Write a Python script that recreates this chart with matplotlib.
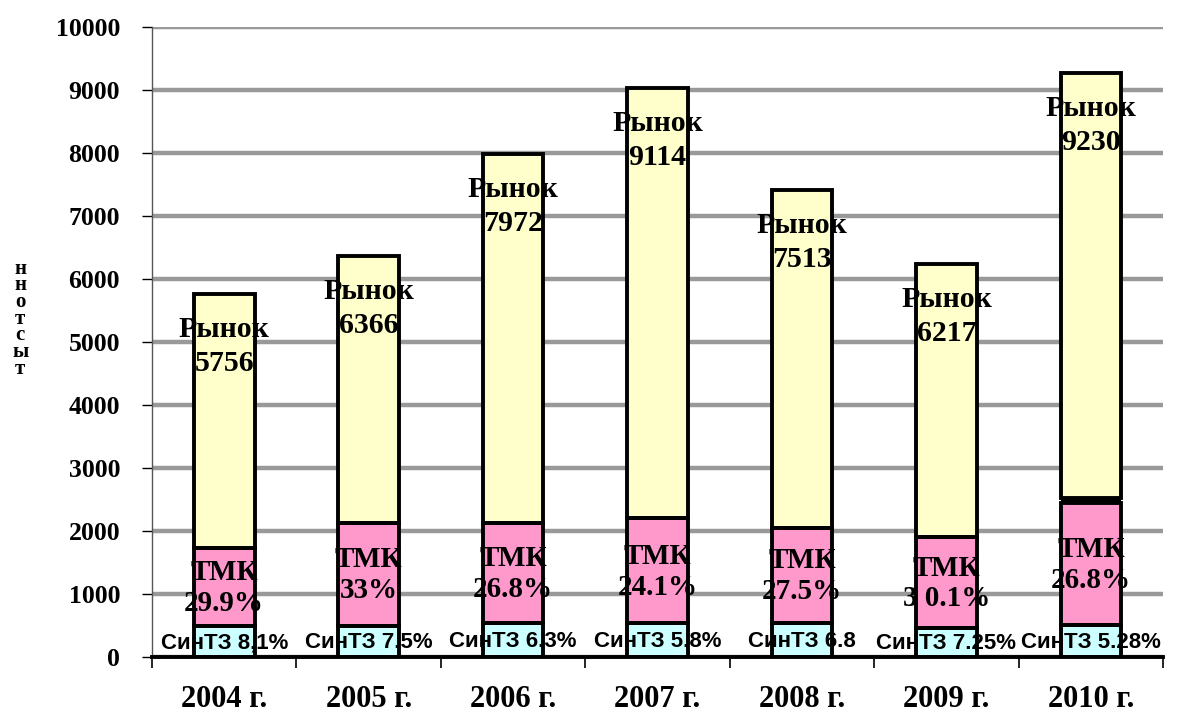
import numpy as np
import matplotlib.pyplot as plt

# years and stacked segments (thousand tonnes)
years = ["2004 г.", "2005 г.", "2006 г.", "2007 г.", "2008 г.", "2009 г.", "2010 г."]
sintz = [490, 490, 540, 540, 540, 460, 510]
tmk = [1240, 1640, 1590, 1660, 1510, 1440, 1940]
gap = [0, 0, 0, 0, 0, 0, 70]          # thin dark slice seen in 2010
rynok = [4030, 4230, 5850, 6830, 5360, 4330, 6740]

# label texts as printed on the chart
sintz_lbl = ["СинТЗ 8,1%", "СинТЗ 7.5%", "СинТЗ 6.3%", "СинТЗ 5.8%",
             "СинТЗ 6.8", "СинТЗ 7.25%", "СинТЗ 5.28%"]
tmk_lbl = ["29.9%", "33%", "26.8%", "24.1%", "27.5%", "3 0.1%", "26.8%"]
rynok_lbl = ["5756", "6366", "7972", "9114", "7513", "6217", "9230"]

serif = "Liberation Serif"
sans = "Liberation Sans"

x = np.arange(len(years))
sintz = np.array(sintz)
tmk = np.array(tmk)
gap = np.array(gap)
rynok = np.array(rynok)
bottom_g = sintz + tmk
bottom_r = bottom_g + gap
total = bottom_r + rynok

fig = plt.figure(figsize=(11.84, 7.18), dpi=100)
ax = fig.add_axes([0.1284, 0.085, 0.854, 0.8776])

w = 0.42
# fills first, labels next, black outlines on top
ax.bar(x, sintz, w, color="#CCFFFF", zorder=2)
ax.bar(x, tmk, w, bottom=sintz, color="#FF99CC", zorder=2)
ax.bar(x, gap, w, bottom=bottom_g, color="black", zorder=2)
ax.bar(x, rynok, w, bottom=bottom_r, color="#FFFFCC", zorder=2)
for vals, bot in [(sintz, 0), (tmk, sintz), (rynok, bottom_r)]:
    ax.bar(x, vals, w, bottom=bot, fill=False, edgecolor="black",
           linewidth=2.8, zorder=4)

for i in range(len(years)):
    ax.text(x[i], total[i] - 560, "Рынок", ha="center", va="center",
            fontsize=21.5, fontweight="bold", family=serif, zorder=3)
    ax.text(x[i], total[i] - 1100, rynok_lbl[i], ha="center", va="center",
            fontsize=21.5, fontweight="bold", family=serif, zorder=3)
    mid = sintz[i] + tmk[i] / 2
    ax.text(x[i], mid + 230, "ТМК", ha="center", va="center",
            fontsize=21, fontweight="bold", family=serif, zorder=3)
    ax.text(x[i], mid - 260, tmk_lbl[i], ha="center", va="center",
            fontsize=21, fontweight="bold", family=serif, zorder=3)
    ax.text(x[i], sintz[i] / 2 - 20, sintz_lbl[i], ha="center", va="center",
            fontsize=16, fontweight="bold", family=sans, zorder=3)

ax.set_xlim(-0.5, len(years) - 0.5)
ax.set_ylim(0, 10000)
ax.set_yticks(np.arange(0, 10001, 1000))
ax.set_yticklabels([str(v) for v in range(0, 10001, 1000)],
                   fontsize=18.5, fontweight="bold", family=serif)
ax.set_xticks(x)
ax.set_xticklabels(years, fontsize=22, fontweight="bold", family=serif)
ax.set_xticks(np.arange(-0.5, len(years), 1.0), minor=True)
ax.tick_params(axis="x", which="major", length=0, pad=20)
ax.tick_params(axis="x", which="minor", length=8, width=1.2, color="black")
ax.tick_params(axis="y", length=7, width=1, color="black", pad=16)

ax.yaxis.grid(True, color="#999999", linewidth=3.2)
ax.set_axisbelow(True)
for s in ["top", "right"]:
    ax.spines[s].set_visible(False)
ax.spines["left"].set_color("#555555")
ax.spines["left"].set_linewidth(1)
ax.spines["bottom"].set_linewidth(2.8)
ax.spines["bottom"].set_color("black")

# vertical axis unit, letters stacked
fig.text(0.017, 0.556, "н\nн\nо\nт\nс\nы\nт", ha="center", va="center",
         fontsize=15, fontweight="bold", family=serif, linespacing=0.78)

fig.savefig("out.png", dpi=100)
